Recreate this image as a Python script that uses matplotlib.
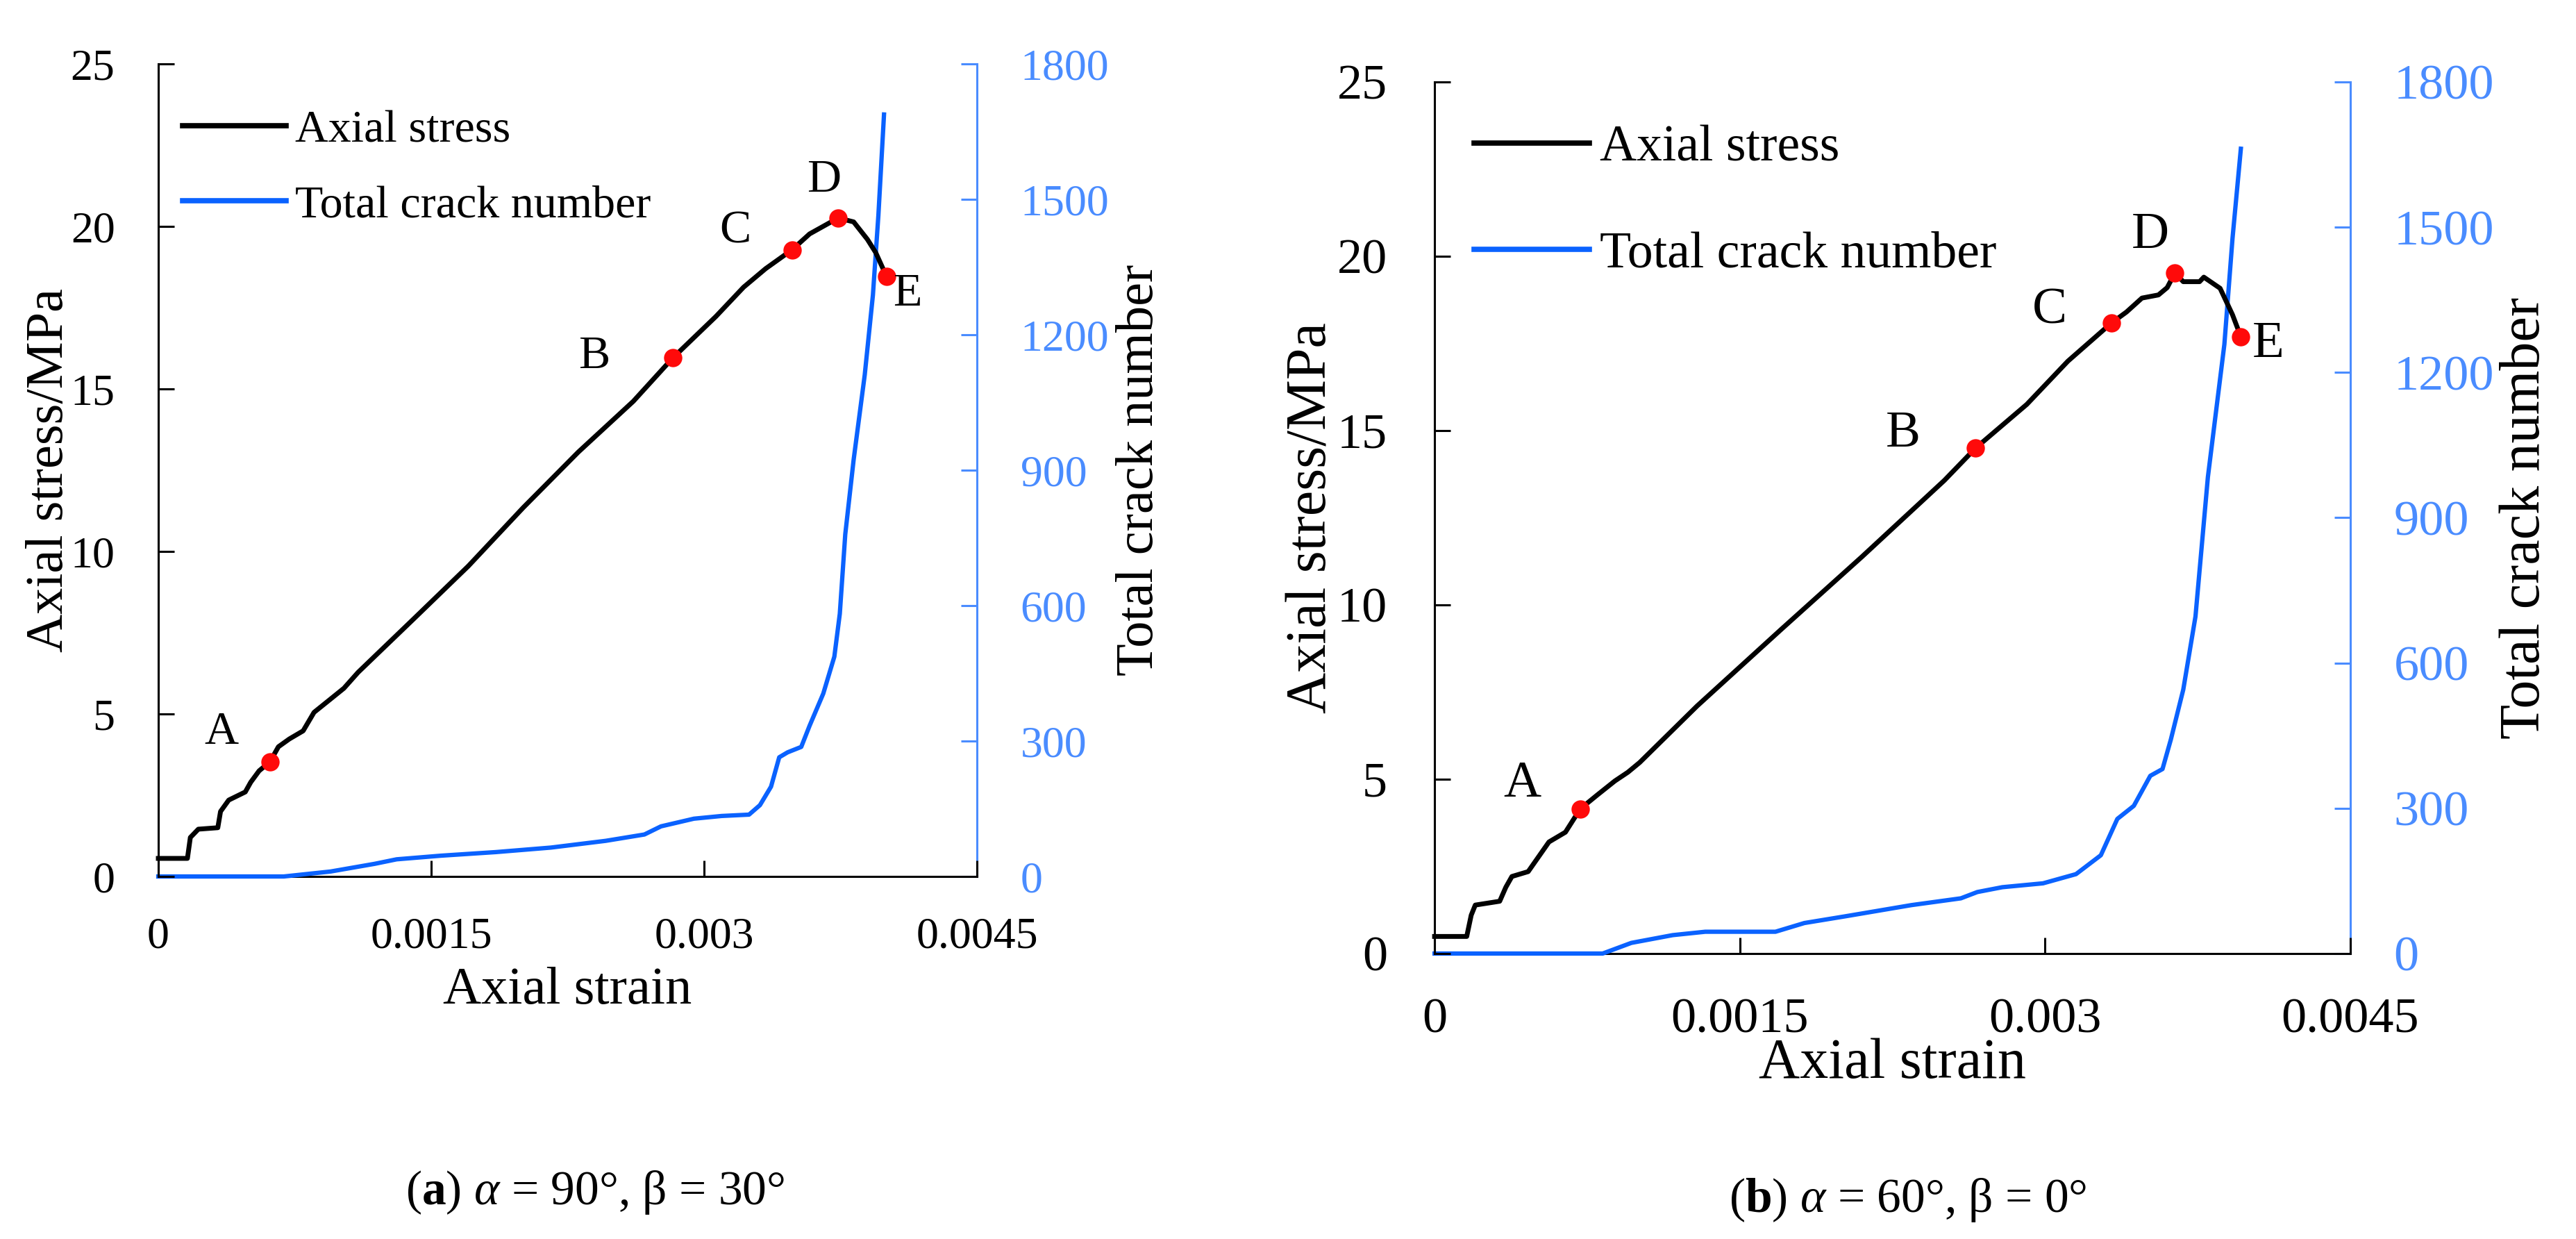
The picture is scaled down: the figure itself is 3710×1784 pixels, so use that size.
import matplotlib
matplotlib.use("Agg")
import matplotlib.pyplot as plt
from matplotlib.lines import Line2D

plt.rcParams['font.family'] = ['Liberation Serif', 'DejaVu Serif']
plt.rcParams['mathtext.fontset'] = 'custom'
plt.rcParams['mathtext.rm'] = 'Liberation Serif'
plt.rcParams['mathtext.it'] = 'Liberation Serif:italic'
plt.rcParams['mathtext.bf'] = 'Liberation Serif:bold'

# ---------------- data ----------------
# panel (a)
a_stress_strain = [0, 0.00016, 0.000176, 0.00022, 0.000327, 0.000342, 0.000387, 0.000478,
                   0.000508, 0.000554, 0.000614, 0.00066, 0.00072, 0.000796, 0.000856,
                   0.000947, 0.00102, 0.001098, 0.001189, 0.001401, 0.001704, 0.002006,
                   0.002309, 0.002611, 0.002829, 0.003065, 0.003217, 0.003338, 0.003483,
                   0.00358, 0.003737, 0.003822, 0.003898, 0.003943, 0.004003]
a_stress = [0.556, 0.556, 1.2, 1.455, 1.5, 2.0, 2.35, 2.6, 2.9, 3.25, 3.53, 3.99, 4.23, 4.48,
            5.05, 5.46, 5.79, 6.28, 6.77, 7.91, 9.55, 11.35, 13.06, 14.62, 15.96, 17.23,
            18.13, 18.7, 19.28, 19.77, 20.26, 20.14, 19.6, 19.2, 18.46]
a_crack_strain = [0, 0.00069, 0.000947, 0.001189, 0.00131, 0.001552, 0.001855, 0.002158,
                  0.00246, 0.002672, 0.002763, 0.002944, 0.003096, 0.003247, 0.003307,
                  0.003368, 0.003413, 0.003459, 0.003534, 0.00358, 0.003655, 0.003716,
                  0.003746, 0.003776, 0.003822, 0.003883, 0.003928, 0.003958, 0.003989]
a_crack = [0, 0, 11, 28, 38, 46, 54, 64, 79, 93, 111, 128, 134, 137, 158, 199, 264, 275, 287,
           334, 405, 487, 582, 758, 923, 1111, 1288, 1464, 1688]
a_pts_strain = [0.000614, 0.002829, 0.003483, 0.003737, 0.004003]
a_pts_stress = [3.53, 15.96, 19.28, 20.26, 18.46]

# panel (b)
b_stress_strain = [0, 0.000158, 0.00018, 0.0002, 0.00032, 0.00035, 0.00038, 0.00046, 0.00049,
                   0.000562, 0.000643, 0.000716, 0.00080, 0.000886, 0.00095, 0.001008, 0.00129,
                   0.0017, 0.0021, 0.002505, 0.002659, 0.00291, 0.003112, 0.003327, 0.00340,
                   0.003476, 0.003557, 0.00360, 0.003638, 0.003679, 0.003759, 0.00378, 0.00386,
                   0.003921, 0.003962]
b_stress = [0.49, 0.49, 1.1, 1.39, 1.5, 1.9, 2.21, 2.35, 2.6, 3.2, 3.48, 4.15, 4.55, 4.95, 5.2,
            5.48, 7.1, 9.28, 11.38, 13.57, 14.5, 15.75, 16.99, 18.09, 18.4, 18.8, 18.89, 19.1,
            19.52, 19.27, 19.27, 19.4, 19.08, 18.32, 17.69]
b_crack_strain = [0, 0.000826, 0.000967, 0.00117, 0.00133, 0.00149, 0.001675, 0.001817, 0.00202,
                  0.002343, 0.002586, 0.002667, 0.00279, 0.00299, 0.003152, 0.003274, 0.003355,
                  0.003436, 0.003517, 0.003577, 0.003618, 0.003679, 0.003739, 0.0038, 0.003881,
                  0.003921, 0.003962]
b_crack = [0, 0, 22, 38, 45, 45, 45, 63, 77, 100, 114, 127, 137, 145, 164, 203, 278, 305, 367,
           381, 442, 545, 696, 984, 1258, 1477, 1662]
b_pts_strain = [0.000716, 0.002659, 0.003327, 0.003638, 0.003962]
b_pts_stress = [4.15, 14.5, 18.09, 19.52, 17.69]

point_labels = ['A', 'B', 'C', 'D', 'E']
x_ticks = [0, 0.0015, 0.003, 0.0045]
x_tick_labels = ['0', '0.0015', '0.003', '0.0045']
y_ticks = [0, 5, 10, 15, 20, 25]
y2_ticks = [0, 300, 600, 900, 1200, 1500, 1800]
legend_labels = ['Axial stress', 'Total crack number']
captions = [r'($\mathbf{a}$) $\alpha$ = 90°, β = 30°', r'($\mathbf{b}$) $\alpha$ = 60°, β = 0°']

# ---------------- style ----------------
BLUE = '#0A62FF'
BLUE_AX = '#4A8CFF'
RED = '#FF0A0A'

fig = plt.figure(figsize=(37.10, 17.84), dpi=100)

panels = [
    dict(rect=[0.06146, 0.2926, 0.3178, 0.6558], ss=a_stress_strain, s=a_stress,
         cs=a_crack_strain, c=a_crack, ps=a_pts_strain, pv=a_pts_stress,
         tick_fs=46, leg_fs=47.5, lab_fs=55, pt_fs=49, ypad=45, xpad=42, y2pad=45,
         ylab_x=-0.133, y2lab_x=1.1985, xlab_y=-0.141,
         leg_anchor=(0.0297, 0.9436), leg_ls=0.73,
         offs=[(-70, 42), (-113, 2), (-82, 27), (-21, 54), (30, -25)],
         cap_xy=(0.231, 0.0376)),
    dict(rect=[0.5569, 0.2304, 0.3555, 0.7035], ss=b_stress_strain, s=b_stress,
         cs=b_crack_strain, c=b_crack, ps=b_pts_strain, pv=b_pts_stress,
         tick_fs=52, leg_fs=53, lab_fs=59, pt_fs=54, ypad=49, xpad=46, y2pad=45,
         ylab_x=-0.134, y2lab_x=1.191, xlab_y=-0.1267,
         leg_anchor=(0.0432, 0.9506), leg_ls=1.16,
         offs=[(-84, 35), (-105, 20), (-89, 17), (-35, 54), (39, -11)],
         cap_xy=(0.7407, 0.0314)),
]

for i, p in enumerate(panels):
    ax = fig.add_axes(p['rect'])
    ax2 = ax.twinx()
    ax.set_zorder(ax2.get_zorder() + 1)
    ax.patch.set_visible(False)

    ax.plot(p['ss'], p['s'], color='black', lw=5.0, clip_on=False, zorder=3,
            solid_joinstyle='round')
    ax2.plot(p['cs'], p['c'], color=BLUE, lw=4.5, clip_on=False, zorder=3,
             solid_joinstyle='round')
    ax.plot(p['ps'], p['pv'], 'o', color=RED, ms=19, mec='none', clip_on=False, zorder=4)
    for lbl, xs, ys, off in zip(point_labels, p['ps'], p['pv'], p['offs']):
        ax.annotate(lbl, (xs, ys), xytext=off, textcoords='offset pixels',
                    ha='center', va='center', fontsize=p['pt_fs'], zorder=5)

    ax.set_xlim(0, 0.0045)
    ax.set_ylim(0, 25)
    ax2.set_ylim(0, 1800)
    ax.set_xticks(x_ticks, x_tick_labels)
    ax.set_yticks(y_ticks)
    ax2.set_yticks(y2_ticks)

    for sp in ['top', 'right', 'bottom']:
        ax.spines[sp].set_visible(False)
    ax.spines['left'].set_linewidth(2.2)
    for sp in ['top', 'left']:
        ax2.spines[sp].set_visible(False)
    ax2.spines['bottom'].set_linewidth(2.2)
    ax2.spines['bottom'].set_color('black')
    ax2.spines['right'].set_linewidth(2.2)
    ax2.spines['right'].set_color(BLUE_AX)

    ax.tick_params(axis='x', direction='in', length=16.5, width=2.2,
                   labelsize=p['tick_fs'], pad=p['xpad'])
    ax.tick_params(axis='y', direction='in', length=16.5, width=2.2,
                   labelsize=p['tick_fs'], pad=p['ypad'])
    ax2.tick_params(axis='y', direction='in', length=16.5, width=2.2, color=BLUE_AX,
                    labelcolor=BLUE_AX, labelsize=p['tick_fs'], pad=p['y2pad'])

    ax.set_xlabel('Axial strain', fontsize=p['lab_fs'])
    ax.xaxis.set_label_coords(0.5, p['xlab_y'])
    ax.xaxis.label.set_va('center')
    ax.set_ylabel('Axial stress/MPa', fontsize=p['lab_fs'])
    ax.yaxis.set_label_coords(p['ylab_x'], 0.5)
    ax.yaxis.label.set_va('center')
    ax2.set_ylabel('Total crack number', fontsize=p['lab_fs'])
    ax2.yaxis.set_label_coords(p['y2lab_x'], 0.5)
    ax2.yaxis.label.set_va('center')

    handles = [Line2D([], [], color='black', lw=5.5), Line2D([], [], color=BLUE, lw=5.5)]
    ax.legend(handles, legend_labels, loc='upper left', bbox_to_anchor=p['leg_anchor'],
              frameon=False, fontsize=p['leg_fs'], borderpad=0, borderaxespad=0,
              handlelength=2.26, handletextpad=0.2, labelspacing=p['leg_ls'])

    fig.text(p['cap_xy'][0], p['cap_xy'][1], captions[i], ha='center', va='center',
             fontsize=50)

fig.savefig('out.png', dpi=100)
